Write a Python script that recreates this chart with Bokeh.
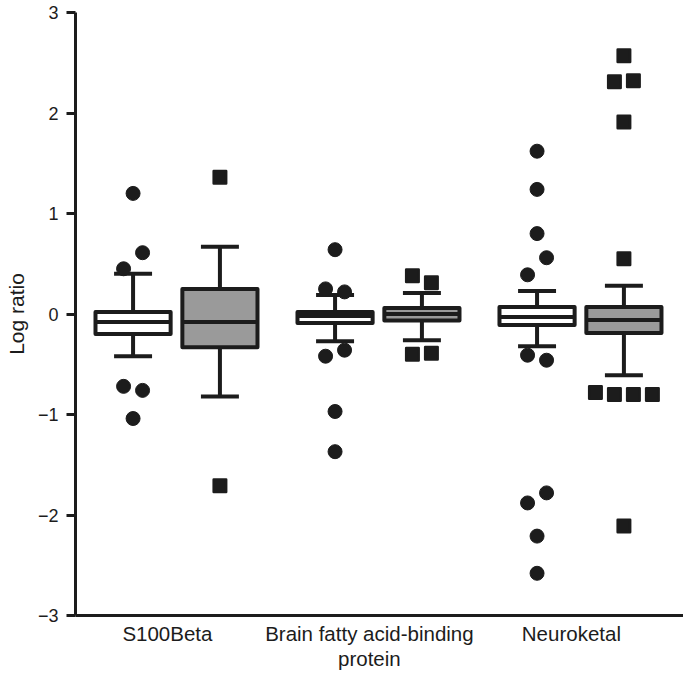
from bokeh.plotting import figure
from bokeh.models import Range1d, FixedTicker, ColumnDataSource
from bokeh.embed import file_html
from bokeh.resources import INLINE

# ---------------- data ----------------
groups = ["S100Beta", "Brain fatty acid-binding\nprotein", "Neuroketal"]
y_ticks = [-3, -2, -1, 0, 1, 2, 3]
y_tick_labels = ["\u22123", "\u22122", "\u22121", "0", "1", "2", "3"]

# series A (white boxes, circle outliers)
a_low = [-0.42, -0.27, -0.32]
a_q1 = [-0.20, -0.09, -0.11]
a_med = [-0.08, -0.02, -0.03]
a_q3 = [0.02, 0.02, 0.07]
a_high = [0.40, 0.19, 0.23]
a_out_s100 = [1.20, 0.45, 0.61, -0.72, -0.76, -1.04]
a_out_bfabp = [0.64, 0.25, 0.22, -0.42, -0.36, -0.97, -1.37]
a_out_neuro = [1.62, 1.24, 0.80, 0.39, 0.56, -0.41, -0.46, -1.88, -1.78, -2.21, -2.58]

# series B (grey boxes, square outliers)
b_low = [-0.82, -0.26, -0.61]
b_q1 = [-0.33, -0.065, -0.19]
b_med = [-0.08, 0.0, -0.06]
b_q3 = [0.25, 0.06, 0.07]
b_high = [0.67, 0.21, 0.28]
b_out_s100 = [1.36, -1.71]
b_out_bfabp = [0.38, 0.31, -0.40, -0.39]
b_out_neuro = [2.57, 2.31, 2.32, 1.91, 0.55, -0.78, -0.80, -0.80, -0.80, -2.11]

a_out = [a_out_s100, a_out_bfabp, a_out_neuro]
b_out = [b_out_s100, b_out_bfabp, b_out_neuro]

# ---------------- style ----------------
INK = "#1c1c1c"
GREY = "#9a9a9a"
FONT = "Liberation Sans"
DODGE = 0.215
BOX_HALF = 0.186
CAP_HALF = 0.094
STEP = 0.094
LABEL_SHIFT = -0.045


def spread(vals, step=STEP, thr=0.2):
    order = sorted(range(len(vals)), key=lambda i: vals[i])
    clusters = []
    for i in order:
        if clusters and vals[i] - vals[clusters[-1][-1]] < thr:
            clusters[-1].append(i)
        else:
            clusters.append([i])
    offs = [0.0] * len(vals)
    for c in clusters:
        c = sorted(c)
        n = len(c)
        for k, i in enumerate(c):
            offs[i] = (k - (n - 1) / 2) * step
    return offs


p = figure(width=683, height=673, output_backend="svg", toolbar_location=None,
           x_range=Range1d(0, 3.01), y_range=Range1d(-3, 3),
           min_border_left=75, min_border_right=0, min_border_top=12,
           min_border_bottom=56)
p.outline_line_color = None
p.xgrid.grid_line_color = None
p.ygrid.grid_line_color = None
p.background_fill_color = "white"
p.border_fill_color = "white"

centers = [i + 0.5 for i in range(len(groups))]


def draw_series(off, low, q1, med, q3, high, outs, fill, marker, msize):
    xs = [c + off for c in centers]
    src = ColumnDataSource(dict(
        x=xs, left=[x - BOX_HALF for x in xs], right=[x + BOX_HALF for x in xs],
        cl=[x - CAP_HALF for x in xs], cr=[x + CAP_HALF for x in xs],
        low=low, q1=q1, med=med, q3=q3, high=high))
    p.segment(x0="x", y0="q3", x1="x", y1="high", source=src, line_color=INK, line_width=4)
    p.segment(x0="x", y0="q1", x1="x", y1="low", source=src, line_color=INK, line_width=4)
    p.segment(x0="cl", y0="high", x1="cr", y1="high", source=src, line_color=INK, line_width=4)
    p.segment(x0="cl", y0="low", x1="cr", y1="low", source=src, line_color=INK, line_width=4)
    p.quad(left="left", right="right", bottom="q1", top="q3", source=src,
           fill_color=fill, line_color=INK, line_width=4, line_join="round")
    p.segment(x0="left", y0="med", x1="right", y1="med", source=src, line_color=INK, line_width=4)
    ox, oy = [], []
    for x, vals in zip(xs, outs):
        for v, d in zip(vals, spread(vals)):
            ox.append(x + d)
            oy.append(v)
    if marker == "circle":
        p.scatter(ox, oy, marker="circle", size=msize, fill_color=INK,
                  line_color=INK, line_width=1)
    else:
        p.scatter(ox, oy, marker="square", size=msize, fill_color=INK,
                  line_color=INK, line_width=2.5, line_join="round")


draw_series(-DODGE, a_low, a_q1, a_med, a_q3, a_high, a_out, "white", "circle", 14)
draw_series(DODGE, b_low, b_q1, b_med, b_q3, b_high, b_out, GREY, "square", 12.5)

# y axis
ya = p.yaxis[0]
ya.ticker = FixedTicker(ticks=y_ticks)
ya.major_label_overrides = {t: l for t, l in zip(y_ticks, y_tick_labels)}
ya.minor_tick_line_color = None
ya.major_tick_in = 0
ya.major_tick_out = 9
ya.major_tick_line_width = 3
ya.major_tick_line_color = INK
ya.axis_line_width = 3
ya.axis_line_color = INK
ya.major_label_standoff = 8
ya.major_label_text_font = FONT
ya.major_label_text_font_size = "18px"
ya.major_label_text_color = INK
ya.axis_label = "Log ratio"
ya.axis_label_text_font = FONT
ya.axis_label_text_font_size = "21px"
ya.axis_label_text_font_style = "normal"
ya.axis_label_text_color = INK
ya.axis_label_standoff = 7

# x axis
label_pos = [c + LABEL_SHIFT for c in centers]
xa = p.xaxis[0]
xa.ticker = FixedTicker(ticks=label_pos)
xa.major_label_overrides = {c: g for c, g in zip(label_pos, groups)}
xa.minor_tick_line_color = None
xa.major_tick_in = 0
xa.major_tick_out = 0
xa.axis_line_width = 3
xa.axis_line_color = INK
xa.major_label_standoff = 6
xa.major_label_text_font = FONT
xa.major_label_text_font_size = "20.5px"
xa.major_label_text_color = INK
xa.major_label_text_line_height = 1.12

open("out.html", "w").write(file_html(p, INLINE))
